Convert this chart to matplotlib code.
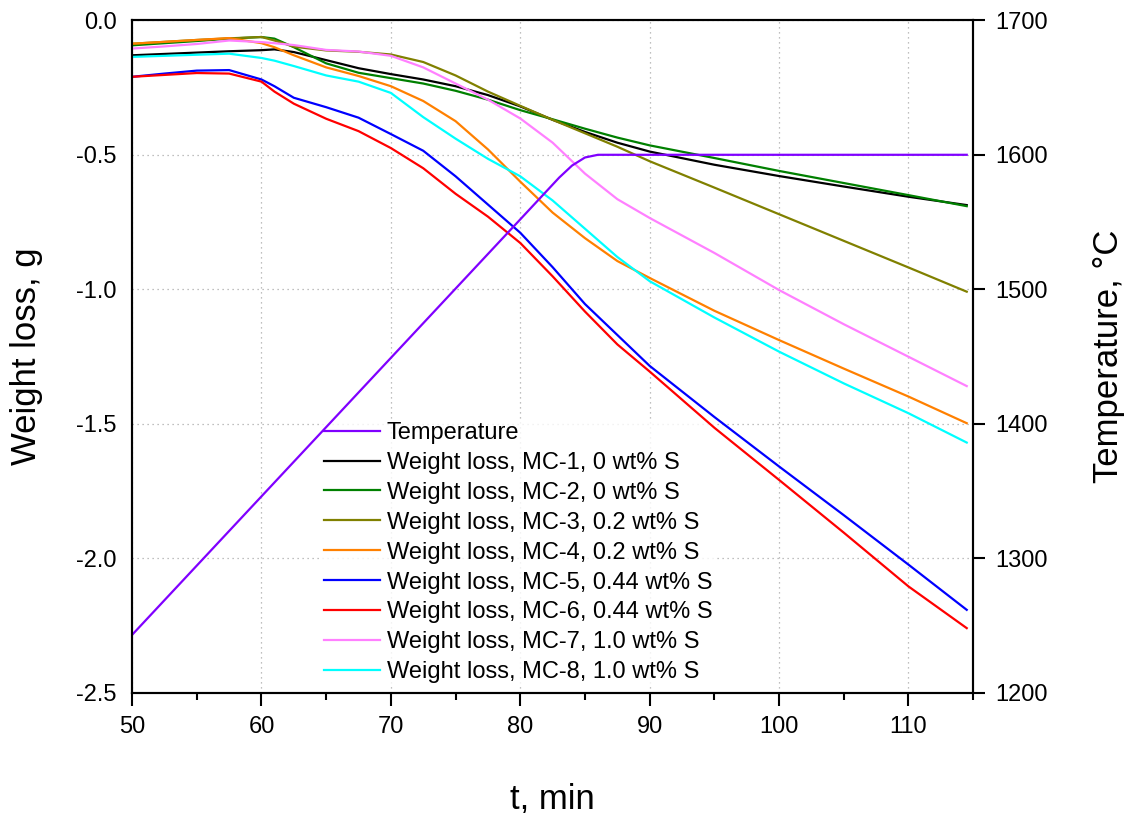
import matplotlib
matplotlib.use("Agg")
import matplotlib.pyplot as plt
from matplotlib.ticker import MultipleLocator, FormatStrFormatter

plt.rcParams["font.family"] = ["Liberation Sans", "DejaVu Sans"]
plt.rcParams["axes.unicode_minus"] = False

# ---- data ----
temp_t = [50, 60, 70, 80, 83, 84, 85, 86, 87, 114.5]
temp_c = [1243, 1346, 1449, 1552, 1583, 1592, 1598, 1600, 1600, 1600]

t = [50, 52.5, 55, 57.5, 60, 61, 62.5, 65, 67.5, 70, 72.5, 75, 77.5, 80,
     82.5, 85, 87.5, 90, 95, 100, 105, 110, 114.5]

mc1 = [-0.130, -0.125, -0.120, -0.115, -0.111, -0.108, -0.118, -0.148, -0.178,
       -0.200, -0.220, -0.245, -0.278, -0.320, -0.370, -0.415, -0.455, -0.488,
       -0.537, -0.579, -0.618, -0.656, -0.687]
mc2 = [-0.093, -0.085, -0.077, -0.068, -0.062, -0.068, -0.100, -0.160, -0.195,
       -0.215, -0.235, -0.262, -0.295, -0.334, -0.368, -0.403, -0.436, -0.465,
       -0.512, -0.560, -0.605, -0.650, -0.691]
mc3 = [-0.087, -0.080, -0.073, -0.067, -0.062, -0.075, -0.098, -0.112, -0.117,
       -0.127, -0.155, -0.205, -0.265, -0.318, -0.370, -0.420, -0.470, -0.524,
       -0.622, -0.721, -0.820, -0.919, -1.009]
mc4 = [-0.087, -0.080, -0.073, -0.066, -0.085, -0.100, -0.130, -0.175, -0.207,
       -0.245, -0.300, -0.375, -0.480, -0.600, -0.715, -0.810, -0.895, -0.958,
       -1.080, -1.189, -1.295, -1.399, -1.498]
mc5 = [-0.210, -0.198, -0.187, -0.185, -0.220, -0.245, -0.288, -0.323, -0.362,
       -0.423, -0.485, -0.580, -0.685, -0.790, -0.918, -1.055, -1.170, -1.285,
       -1.475, -1.659, -1.840, -2.024, -2.192]
mc6 = [-0.210, -0.203, -0.196, -0.198, -0.228, -0.265, -0.310, -0.366, -0.412,
       -0.475, -0.550, -0.645, -0.730, -0.828, -0.952, -1.083, -1.205, -1.306,
       -1.515, -1.709, -1.905, -2.105, -2.260]
mc7 = [-0.105, -0.097, -0.088, -0.075, -0.081, -0.085, -0.092, -0.110, -0.116,
       -0.132, -0.175, -0.235, -0.295, -0.365, -0.455, -0.570, -0.665, -0.735,
       -0.865, -1.003, -1.130, -1.251, -1.360]
mc8 = [-0.136, -0.132, -0.128, -0.124, -0.140, -0.150, -0.170, -0.205, -0.228,
       -0.270, -0.360, -0.440, -0.515, -0.580, -0.670, -0.775, -0.880, -0.970,
       -1.105, -1.232, -1.350, -1.461, -1.570]

series = [mc1, mc2, mc3, mc4, mc5, mc6, mc7, mc8]
labels = ["Weight loss, MC-1, 0 wt% S", "Weight loss, MC-2, 0 wt% S",
          "Weight loss, MC-3, 0.2 wt% S", "Weight loss, MC-4, 0.2 wt% S",
          "Weight loss, MC-5, 0.44 wt% S", "Weight loss, MC-6, 0.44 wt% S",
          "Weight loss, MC-7, 1.0 wt% S", "Weight loss, MC-8, 1.0 wt% S"]
colors = ["#000000", "#008000", "#808000", "#FF8000",
          "#0000FF", "#FF0000", "#FF80FF", "#00FFFF"]

# ---- plot ----
fig = plt.figure(figsize=(11.29, 8.13), dpi=100)
ax = fig.add_axes([0.117, 0.148, 0.745, 0.827])
ax2 = ax.twinx()

lines = []
for y, lab, c in zip(series, labels, colors):
    ln, = ax.plot(t, y, color=c, lw=1.6, label=lab, zorder=3)
    lines.append(ln)
tl, = ax2.plot(temp_t, temp_c, color="#8000FF", lw=1.6, label="Temperature")

ax.set_xlim(50, 115)
ax.set_ylim(-2.5, 0)
ax2.set_ylim(1200, 1700)

ax.xaxis.set_major_locator(MultipleLocator(10))
ax.xaxis.set_minor_locator(MultipleLocator(5))
ax.yaxis.set_major_locator(MultipleLocator(0.5))
ax.yaxis.set_major_formatter(FormatStrFormatter("%.1f"))
ax2.yaxis.set_major_locator(MultipleLocator(100))

ax.grid(True, which="major", linestyle=(0, (1, 3)), color="#aaaaaa", lw=0.9)

ax.tick_params(axis="x", which="major", direction="out", length=9.5, width=1.5,
               labelsize=17, pad=7)
ax.tick_params(axis="x", which="minor", direction="out", length=5, width=1.5)
ax.tick_params(axis="y", which="both", length=0, labelsize=17, pad=11)
ax2.tick_params(axis="y", direction="out", length=8.6, width=1.5,
                labelsize=17, pad=7)

for a in (ax, ax2):
    for s in a.spines.values():
        s.set_linewidth(1.5)

ax.set_xlabel("t, min", fontsize=25, labelpad=32)
ax.set_ylabel("Weight loss, g", fontsize=25, labelpad=24)
ax2.set_ylabel("Temperature, °C", fontsize=25, labelpad=32)

# legend sits on the weight axes: above the grid, below the data lines
leg = ax.legend([tl] + lines, ["Temperature"] + labels, fontsize=17,
                loc="upper left", bbox_to_anchor=(0.285, 0.484),
                bbox_transform=fig.transFigure, frameon=True, fancybox=False,
                handlelength=2.35, handletextpad=0.3, labelspacing=0.336,
                borderpad=0.1, borderaxespad=0)
leg.get_frame().set_facecolor("white")
leg.get_frame().set_edgecolor("none")
leg.set_zorder(2.5)

fig.savefig("out.png", dpi=100)
